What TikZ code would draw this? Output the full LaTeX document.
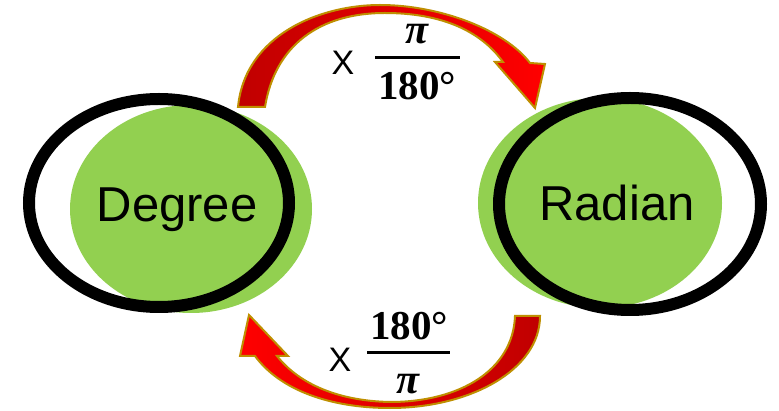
\documentclass[tikz,border=0pt]{standalone}
\usepackage{fontspec}
\setmainfont{Liberation Sans}
\newfontfamily\fracfont{Liberation Serif}
\definecolor{leafgreen}{HTML}{92D050}
\definecolor{darkred}{HTML}{C00000}
\definecolor{gold}{HTML}{BF8F00}

\begin{document}
\begin{tikzpicture}[x=1pt, y=-1pt,
        blob/.style={fill=leafgreen},
        ring/.style={draw=black, line width=12pt},
        word/.style={inner sep=0pt, font=\fontsize{49}{55}\selectfont},
        times/.style={inner sep=0pt, font=\fontsize{34}{38}\selectfont},
        num/.style={inner sep=0pt, font=\fracfont\bfseries\fontsize{41}{46}\selectfont},
        den/.style={inner sep=0pt, font=\fracfont\bfseries\itshape\fontsize{42}{46}\selectfont},
        bar/.style={line width=3pt},
        bend arrow/.style={draw=gold, line width=2pt, line join=miter}
    ]
        \useasboundingbox (0,0) rectangle (779,411);
        \fill[white] (0,0) rectangle (779,411);

        \fill[blob] (191,209) ellipse [x radius=121, y radius=104];
        \fill[blob] (600,203) ellipse [x radius=122, y radius=105];
        \draw[ring] (159,203) ellipse [x radius=130, y radius=104];
        \draw[ring] (630,204) ellipse [x radius=131, y radius=106];

        \node[word] (degree) at (177,210) {Degree};
        \node[word] (radian) at (617,203) {Radian};

        \path[bend arrow, left color=darkred, right color=red]
            (238,107) .. controls (245,35) and (320,5) .. (380,5)
            .. controls (440,5) and (505,30) .. (530,63)
            -- (545,64) -- (535,108) -- (495,62) -- (503,62)
            .. controls (480,30) and (440,13) .. (385,13)
            .. controls (320,13) and (275,45) .. (265,107) -- cycle;

        \path[bend arrow, left color=red, right color=darkred]
            (540,316) .. controls (540,370) and (470,408) .. (390,408)
            .. controls (330,408) and (280,390) .. (255,356)
            -- (240,356) -- (249,315) -- (288,356) -- (277,356)
            .. controls (300,385) and (340,401) .. (390,402)
            .. controls (460,402) and (513,370) .. (515,316) -- cycle;

        \node[times] (xtop) at (343,63) {X};
        \node[den] (pitop) at (417,34) {π};
        \node[num] (degtop) at (417,86) {180°};
        \coordinate (topbarL) at (375,58);
        \coordinate (topbarR) at (460,58);
        \draw[bar] (topbarL) -- (topbarR);

        \node[times] (xbot) at (340,360) {X};
        \node[num] (degbot) at (409,326) {180°};
        \node[den] (pibot) at (408,384) {π};
        \coordinate (botbarL) at (367,353);
        \coordinate (botbarR) at (450,353);
        \draw[bar] (botbarL) -- (botbarR);
    \end{tikzpicture}
\end{document}
